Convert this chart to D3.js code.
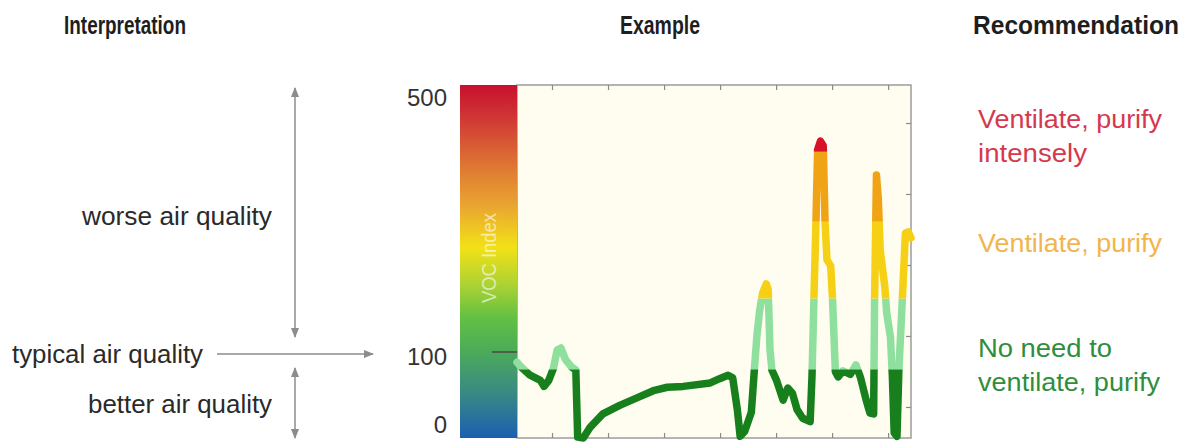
<!DOCTYPE html>
<html>
<head>
<meta charset="utf-8">
<script src="https://cdn.jsdelivr.net/npm/d3@7"></script>
<style>
  body { margin: 0; background: #fff; }
  svg { display: block; font-family: "Liberation Sans", Arial, sans-serif; }
</style>
</head>
<body>
<svg id="chart"></svg>
<script>
// time in minutes, VOC index
const minutes = [0, 4, 14, 25, 29, 34, 39, 43, 47, 52, 58, 63, 65, 71, 78, 92, 110, 129, 146, 161, 178, 207, 217, 226, 231, 236, 239, 244, 251, 254, 257, 260, 263, 267, 269, 271, 273, 278, 285, 290, 295, 300, 306, 314, 316, 318, 320, 322, 325, 328, 330, 332, 336, 338, 341, 344, 349, 357, 363, 368, 374, 378, 382, 383, 385, 387, 389, 394, 396, 400, 402, 404, 407, 409, 412, 416, 419, 422];
const vocIndex = [88, 83, 73, 67, 60, 67, 81, 103, 106, 91, 83, 79, 1, 0, 12, 28, 38, 47, 55, 59, 60, 64, 69, 73, 70, 33, 2, 8, 30, 76, 125, 163, 188, 202, 193, 103, 79, 67, 44, 58, 52, 33, 23, 19, 73, 178, 283, 403, 416, 409, 293, 238, 229, 178, 77, 71, 78, 74, 85, 70, 44, 29, 28, 178, 365, 329, 253, 197, 158, 122, 73, 6, 2, 79, 158, 278, 280, 271];

const yTicks = [0, 100, 500];
const xTicks = [37.5, 97.5, 157.5, 217.5, 277.5, 337.5, 397.5];
const rightTicks = [1, 2, 3, 4, 5];

// value bands for the line colour
const bands = [
  { lo: 0, hi: 80, color: "#17801c" },
  { lo: 80, hi: 180, color: "#8fe09e" },
  { lo: 180, hi: 295, color: "#f6d015" },
  { lo: 295, hi: 400, color: "#f0a314" },
  { lo: 400, hi: 500, color: "#d7122a" }
];

const headers = [
  { text: "Interpretation", x: 125, len: 122 },
  { text: "Example", x: 660, len: 80 },
  { text: "Recommendation", x: 1076, len: 206 }
];

const advice = [
  { lines: ["Ventilate, purify", "intensely"], lens: [184, 109], y: 128, color: "#d6384e" },
  { lines: ["Ventilate, purify"], lens: [184], y: 252, color: "#f1b54c" },
  { lines: ["No need to", "ventilate, purify"], lens: [134, 182], y: 357, color: "#2f8e3c" }
];

const width = 1198, height = 443;
const svg = d3.select("#chart").attr("width", width).attr("height", height);

const plot = { left: 517, right: 911, top: 85, bottom: 438 };
const bar = { left: 460, right: 517 };

const x = d3.scaleLinear().domain([0, 422]).range([plot.left, plot.right]);
const y = d3.scaleLinear().domain([0, 100, 500]).range([plot.bottom, 352, plot.top]);
const y2 = d3.scaleLinear().domain([0.563, 5.535]).range([plot.bottom, plot.top]);

// headers
svg.selectAll("text.header")
  .data(headers)
  .enter()
  .append("text")
  .attr("class", "header")
  .attr("x", d => d.x)
  .attr("y", 34)
  .attr("text-anchor", "middle")
  .attr("font-size", 25)
  .attr("font-weight", "bold")
  .attr("fill", "#1e1e1e")
  .attr("textLength", d => d.len)
  .attr("lengthAdjust", "spacingAndGlyphs")
  .text(d => d.text);

// plot background + frame
svg.append("rect")
  .attr("x", plot.left).attr("y", plot.top)
  .attr("width", plot.right - plot.left).attr("height", plot.bottom - plot.top)
  .attr("fill", "#fffdef")
  .attr("stroke", "#9c9c9c")
  .attr("stroke-width", 1.5);

// colour bar
const defs = svg.append("defs");
const grad = defs.append("linearGradient")
  .attr("id", "vocGrad")
  .attr("x1", 0).attr("y1", 0).attr("x2", 0).attr("y2", 1);
[
  [0, "#c8102e"], [0.1, "#d03a35"], [0.24, "#e07b32"], [0.34, "#e9a431"],
  [0.46, "#f3e116"], [0.57, "#a9d234"], [0.66, "#62c043"], [0.76, "#4ba95b"],
  [0.87, "#3a8a82"], [1, "#1b5fb1"]
].forEach(s => grad.append("stop").attr("offset", s[0]).attr("stop-color", s[1]));

svg.append("rect")
  .attr("x", bar.left).attr("y", y(500))
  .attr("width", bar.right - bar.left).attr("height", y(0) - y(500))
  .attr("fill", "url(#vocGrad)");

svg.append("text")
  .attr("transform", `translate(${(bar.left + bar.right) / 2 + 7},${258}) rotate(-90)`)
  .attr("text-anchor", "middle")
  .attr("font-size", 20)
  .attr("fill", "#ffffff")
  .attr("fill-opacity", 0.6)
  .attr("textLength", 90)
  .attr("lengthAdjust", "spacingAndGlyphs")
  .text("VOC Index");

// left value labels
const yAxis = svg.append("g")
  .attr("transform", `translate(${bar.left},0)`)
  .call(d3.axisLeft(y).tickValues(yTicks).tickSize(0).tickPadding(13));
yAxis.select(".domain").remove();
yAxis.selectAll("text")
  .attr("font-size", 24)
  .attr("font-family", "\"Liberation Sans\", Arial, sans-serif")
  .attr("fill", "#333")
  .attr("dy", d => d === 500 ? "0.86em" : d === 100 ? "0.53em" : "-0.22em");

// short tick at 100 over the bar
svg.append("line")
  .attr("x1", bar.right - 25).attr("x2", bar.right)
  .attr("y1", y(100)).attr("y2", y(100))
  .attr("stroke", "#4a4a4a").attr("stroke-width", 1.5);

// top, bottom and right ticks (inward)
const tickStyle = g => {
  g.select(".domain").remove();
  g.selectAll("line").attr("stroke", "#8a8a8a").attr("stroke-width", 1.2);
};
svg.append("g")
  .attr("transform", `translate(0,${plot.top})`)
  .call(d3.axisTop(x).tickValues(xTicks).tickSize(-5).tickFormat(""))
  .call(tickStyle);
svg.append("g")
  .attr("transform", `translate(0,${plot.bottom})`)
  .call(d3.axisBottom(x).tickValues(xTicks).tickSize(-5).tickFormat(""))
  .call(tickStyle);
svg.append("g")
  .attr("transform", `translate(${plot.right},0)`)
  .call(d3.axisRight(y2).tickValues(rightTicks).tickSize(-5).tickFormat(""))
  .call(tickStyle);

// VOC line coloured by band
const series = minutes.map((t, i) => ({ t, v: vocIndex[i] }));
const line = d3.line().x(d => x(d.t)).y(d => y(d.v));

bands.forEach((b, i) => {
  const top = b.hi >= 500 ? 0 : y(b.hi);
  const bottom = b.lo <= 0 ? height : y(b.lo);
  defs.append("clipPath")
    .attr("id", "band" + i)
    .append("rect")
    .attr("x", plot.left - 5).attr("y", top)
    .attr("width", plot.right - plot.left + 10).attr("height", bottom - top);

  svg.append("path")
    .datum(series)
    .attr("clip-path", `url(#band${i})`)
    .attr("fill", "none")
    .attr("stroke", b.color)
    .attr("stroke-width", 7.5)
    .attr("stroke-linejoin", "round")
    .attr("stroke-linecap", "round")
    .attr("d", line);
});

// interpretation side: labels and arrows
const arrowColor = "#8c8c8c";
defs.append("marker")
  .attr("id", "head")
  .attr("viewBox", "0 0 10 10")
  .attr("refX", 9).attr("refY", 5)
  .attr("markerWidth", 7).attr("markerHeight", 7)
  .attr("orient", "auto-start-reverse")
  .append("path")
  .attr("d", "M0,1 L10,5 L0,9 Z")
  .attr("fill", arrowColor);

const arrowX = 295;
svg.append("line")
  .attr("x1", arrowX).attr("x2", arrowX)
  .attr("y1", y(500) + 3).attr("y2", y(100) - 15)
  .attr("stroke", arrowColor).attr("stroke-width", 1.5)
  .attr("marker-start", "url(#head)").attr("marker-end", "url(#head)");
svg.append("line")
  .attr("x1", arrowX).attr("x2", arrowX)
  .attr("y1", y(100) + 16).attr("y2", y(0))
  .attr("stroke", arrowColor).attr("stroke-width", 1.5)
  .attr("marker-start", "url(#head)").attr("marker-end", "url(#head)");
svg.append("line")
  .attr("x1", 217).attr("x2", 373)
  .attr("y1", y(100) + 2).attr("y2", y(100) + 2)
  .attr("stroke", arrowColor).attr("stroke-width", 1.5)
  .attr("marker-end", "url(#head)");

const interp = [
  { text: "worse air quality", x: 272, y: 225, len: 190 },
  { text: "typical air quality", x: 203, y: 363, len: 191 },
  { text: "better air quality", x: 272, y: 413, len: 184 }
];
svg.selectAll("text.interp")
  .data(interp)
  .enter()
  .append("text")
  .attr("class", "interp")
  .attr("x", d => d.x)
  .attr("y", d => d.y)
  .attr("text-anchor", "end")
  .attr("font-size", 25)
  .attr("fill", "#2a2a2a")
  .attr("textLength", d => d.len)
  .attr("lengthAdjust", "spacingAndGlyphs")
  .text(d => d.text);

// recommendation side
advice.forEach(a => {
  a.lines.forEach((l, j) => {
    svg.append("text")
      .attr("x", 978)
      .attr("y", a.y + j * 34)
      .attr("font-size", 25)
      .attr("fill", a.color)
      .attr("textLength", a.lens[j])
      .attr("lengthAdjust", "spacingAndGlyphs")
      .text(l);
  });
});
</script>
</body>
</html>
